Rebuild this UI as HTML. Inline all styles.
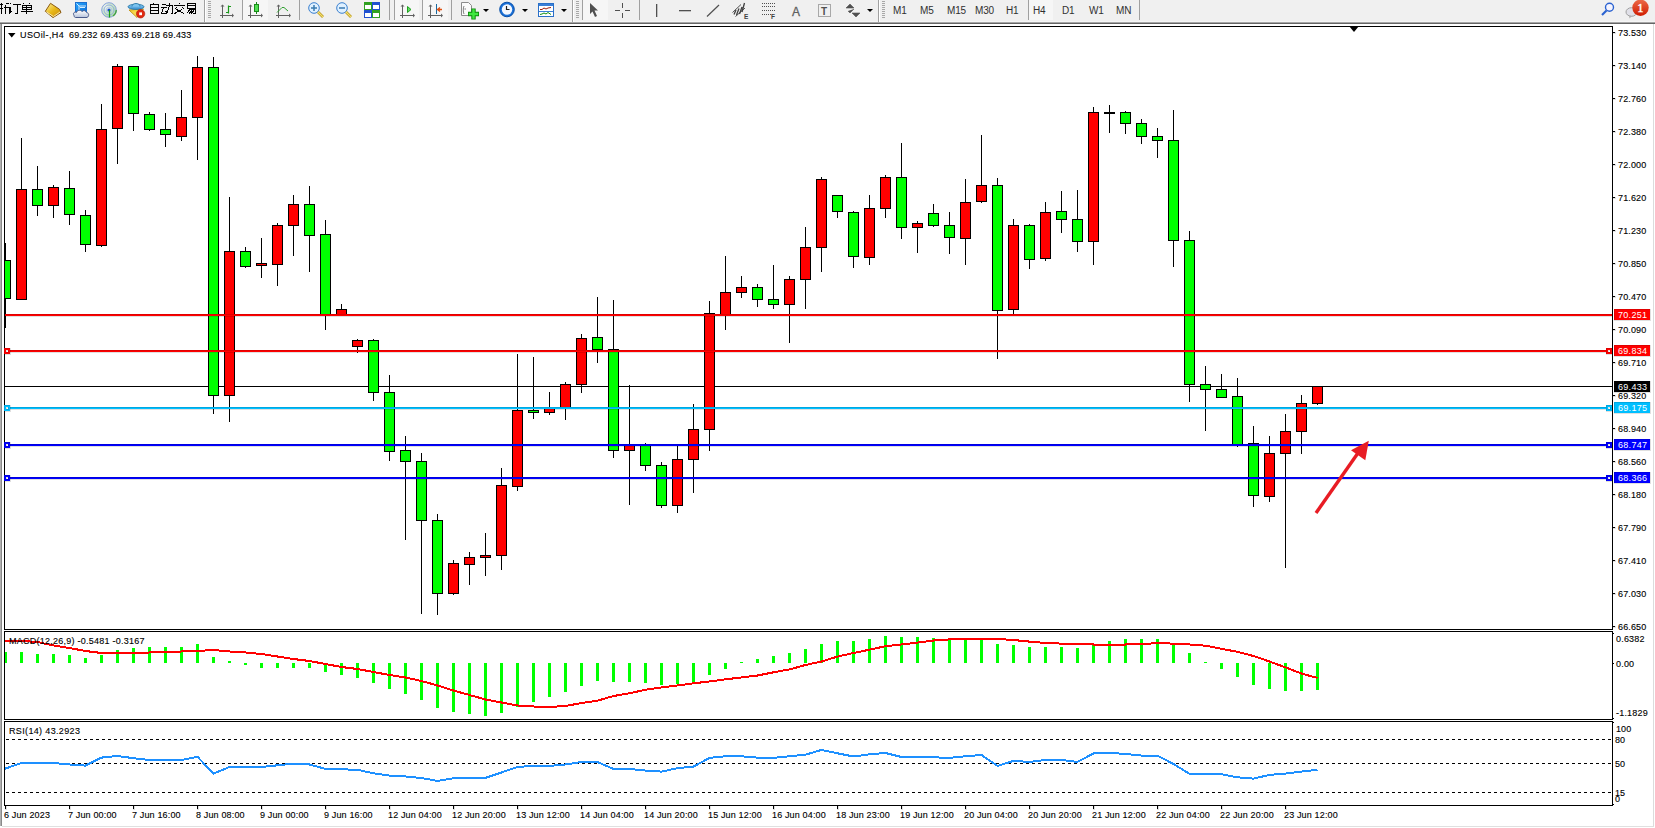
<!DOCTYPE html>
<html><head><meta charset="utf-8">
<style>
html,body{margin:0;padding:0;}
body{width:1655px;height:828px;overflow:hidden;background:#fff;position:relative;font-family:"Liberation Sans",sans-serif;}
svg{position:absolute;left:0;top:0;}
.t{font-family:"Liberation Sans",sans-serif;font-size:9px;fill:#000;letter-spacing:0.3px;stroke:#000;stroke-width:0.12px;}
.t .tw{stroke:none;}
.t .tw{fill:#fff;}
</style></head><body>
<svg width="1655" height="828" viewBox="0 0 1655 828" shape-rendering="crispEdges">
<!-- toolbar -->
<rect x="0" y="0" width="1655" height="22" fill="#f0f0f0"/>
<rect x="0" y="21" width="1655" height="1" fill="#f5f5f5"/>
<rect x="0" y="22" width="1655" height="1" fill="#a6a6a6"/>
<rect x="0" y="23" width="1655" height="1" fill="#656565"/>
<g id="toolbar" shape-rendering="geometricPrecision">
<!-- CJK: 新订单 -->
<g stroke="#000" stroke-width="1" fill="none" shape-rendering="crispEdges">
 <path d="M0 4.5H3M0 8.5H3M1.5 3V14M6.5 3.5L8.5 3M4 7.5H11M5.5 5V14M9.5 8V14"/>
 <path d="M10.5 3V4M10.5 7V12.5L12 11M13 4.5H21M17.5 4.5V13.5H15"/>
 <path d="M23.5 3V4M29.5 3V4M22.5 5.5H31.5V9.5H22.5ZM22.5 7.5H31.5M26.5 5V14M21 11.5H33"/>
</g>
<!-- book icon -->
<defs>
<linearGradient id="gbook" x1="0" y1="0" x2="1" y2="1"><stop offset="0" stop-color="#fff2a0"/><stop offset="0.5" stop-color="#e8b818"/><stop offset="1" stop-color="#c88a10"/></linearGradient>
<linearGradient id="gcloud" x1="0" y1="0" x2="0" y2="1"><stop offset="0" stop-color="#ffffff"/><stop offset="1" stop-color="#b8c4dc"/></linearGradient>
<linearGradient id="gbox" x1="0" y1="0" x2="1" y2="1"><stop offset="0" stop-color="#2aa8ff"/><stop offset="1" stop-color="#0a70d8"/></linearGradient>
<radialGradient id="gsig" cx="0.3" cy="0.3" r="0.8"><stop offset="0" stop-color="#f0f4f0"/><stop offset="1" stop-color="#a8d8a0"/></radialGradient>
<linearGradient id="ghat" x1="0" y1="0" x2="0" y2="1"><stop offset="0" stop-color="#90d0f8"/><stop offset="1" stop-color="#3a90d0"/></linearGradient>
<linearGradient id="gcup" x1="0" y1="0" x2="1" y2="1"><stop offset="0" stop-color="#f0c828"/><stop offset="1" stop-color="#fff080"/></linearGradient>
</defs>
<polygon points="45.3,11.3 50.5,3.3 59.5,9.3 61,12.5 53,17.6" fill="url(#gbook)" stroke="#8b5a10" stroke-width="1" stroke-linejoin="round"/>
<path d="M46.5 12L53.5 16.5L60 12" stroke="#f8e8b0" stroke-width="1" fill="none"/>
<!-- cloud/page icon -->
<rect x="75.5" y="2.5" width="11" height="9" fill="url(#gbox)" stroke="#1a70d0" stroke-width="1"/>
<path d="M76.5 3.5L79 6V11M79 6H86" stroke="#e8f6ff" stroke-width="0.9" fill="none"/>
<rect x="80" y="7" width="5" height="1" fill="#d8f0ff"/>
<path d="M74 15.5C72.5 13 74.5 11.5 76.5 12.5C77 10 80.5 9.5 82 11.5C83.5 10 86 10.5 86.5 12.5C89 12.5 89.5 16.5 87 17.5H75.5C74.5 17.3 74 16.5 74 15.5Z" fill="url(#gcloud)" stroke="#4a5a8a" stroke-width="1"/>
<!-- signal icon -->
<circle cx="109" cy="10" r="7.3" fill="url(#gsig)" stroke="#7090d8" stroke-width="0.9" opacity="0.9"/>
<circle cx="109" cy="10" r="5" fill="none" stroke="#88a8e0" stroke-width="0.9"/>
<circle cx="109" cy="10" r="2.8" fill="none" stroke="#a8c0e8" stroke-width="0.8"/>
<path d="M113 16A7.3 7.3 0 0 0 116.3 10" stroke="#40a040" stroke-width="1.2" fill="none"/>
<circle cx="109" cy="10" r="1.6" fill="#2050d0"/>
<path d="M109.5 10V17.5" stroke="#18a018" stroke-width="1.2"/>
<!-- hat icon -->
<path d="M129 10L143.5 9L137 17.5Z" fill="url(#gcup)" stroke="#c09010" stroke-width="0.9" stroke-linejoin="round"/>
<ellipse cx="136" cy="6.8" rx="8" ry="2.6" fill="url(#ghat)" stroke="#2a78a8" stroke-width="0.9"/>
<path d="M132 6.5C132 2.5 140 2.5 140 6.5" fill="#7cc4f0" stroke="#2a78a8" stroke-width="0.9"/>
<circle cx="140.6" cy="13.8" r="4.2" fill="#e02810" stroke="#b01808" stroke-width="0.6"/>
<rect x="139.2" y="12.4" width="2.8" height="2.8" fill="#fff"/>
<!-- 自动交易 -->
<g stroke="#000" stroke-width="1" fill="none" shape-rendering="crispEdges">
 <path d="M153.5 2.5V4M150.5 4.5H158.5V13.5H150.5ZM150.5 7.5H158.5M150.5 10.5H158.5"/>
 <path d="M162 4.5H166M161 7.5H167M163.5 8L161.5 13H167M165.5 11L167 13M166 5.5H172.5V13.5H170.5M169.5 3V6M169.5 6L167 13"/>
 <path d="M179.5 2.5V4M174 5.5H185M177 7L175 9M182 7L184 9M176.5 9.5L184 13.5M182 9.5L174.5 13.5"/>
 <path d="M187.5 3.5H195.5V8.5H187.5ZM187.5 5.5H195.5M189 9.5H195.5V13.5H193M190 9.5L187 13M192 10.5L189 13.5M194 10.5L191 13.5"/>
</g>
<!-- separator -->
<rect x="204" y="0" width="1" height="22" fill="#a0a0a0"/><rect x="205" y="0" width="1" height="22" fill="#fff"/>
<g fill="#a8a8a8"><rect x="208" y="1" width="3" height="1"/><rect x="208" y="3" width="3" height="1"/><rect x="208" y="5" width="3" height="1"/><rect x="208" y="7" width="3" height="1"/><rect x="208" y="9" width="3" height="1"/><rect x="208" y="11" width="3" height="1"/><rect x="208" y="13" width="3" height="1"/><rect x="208" y="15" width="3" height="1"/><rect x="208" y="17" width="3" height="1"/></g>
<!-- bar chart icon -->
<g fill="#606060"><rect x="222" y="5" width="1" height="13"/><rect x="220" y="15" width="13" height="1"/><path d="M220.5 6.5L222.5 4.5L224.5 6.5Z"/><path d="M232 13.5L234 15.5L232 17.5Z"/></g>
<path d="M228.5 5.5V13.5M228.5 6.5H231M226 12.5H228.5" stroke="#1a9a1a" stroke-width="1.2" fill="none"/>
<!-- candle icon pressed -->
<rect x="243" y="0" width="25" height="20" fill="#f6f6f6"/>
<rect x="242" y="0" width="1" height="20" fill="#a0a0a0"/>
<g fill="#606060"><rect x="250" y="5" width="1" height="13"/><rect x="248" y="15" width="14" height="1"/><path d="M248.5 6.5L250.5 4.5L252.5 6.5Z"/><path d="M261 13.5L263 15.5L261 17.5Z"/></g>
<rect x="256" y="2" width="1" height="12" fill="#1a8a1a"/>
<rect x="254.5" y="4.5" width="4" height="7" fill="#50e050" stroke="#1a8a1a"/>
<!-- line chart icon -->
<g fill="#606060"><rect x="278" y="5" width="1" height="13"/><rect x="276" y="15" width="14" height="1"/><path d="M276.5 6.5L278.5 4.5L280.5 6.5Z"/><path d="M289 13.5L291 15.5L289 17.5Z"/></g>
<path d="M277 12.5L282 7.5L284 7.5L288 11" stroke="#30a030" stroke-width="1" fill="none"/>
<rect x="299" y="0" width="1" height="20" fill="#a0a0a0"/>
<!-- zoom in / out -->
<circle cx="314" cy="8" r="5.3" fill="#dff0ff" stroke="#3a80d0" stroke-width="1"/>
<path d="M311 8H317M314 5V11" stroke="#3a7ab0" stroke-width="1.5"/>
<path d="M318 12L323 17" stroke="#b89010" stroke-width="2.6"/><path d="M318 12L323 17" stroke="#f0e070" stroke-width="1.2"/>
<circle cx="342" cy="8" r="5.3" fill="#dff0ff" stroke="#3a80d0" stroke-width="1"/>
<path d="M339 8H345" stroke="#3a7ab0" stroke-width="1.5"/>
<path d="M346 12L351 17" stroke="#b89010" stroke-width="2.6"/><path d="M346 12L351 17" stroke="#f0e070" stroke-width="1.2"/>
<!-- tile icon -->
<rect x="364" y="2" width="8" height="8" fill="#30a020"/><rect x="372" y="2" width="8" height="8" fill="#2050d0"/>
<rect x="364" y="10" width="8" height="8" fill="#2050d0"/><rect x="372" y="10" width="8" height="8" fill="#30a020"/>
<g fill="#fff"><rect x="365" y="5" width="6" height="4"/><rect x="373" y="5" width="6" height="4"/><rect x="365" y="13" width="6" height="4"/><rect x="373" y="13" width="6" height="4"/></g>
<rect x="389" y="0" width="1" height="20" fill="#a0a0a0"/>
<rect x="394" y="0" width="1" height="20" fill="#a0a0a0"/>
<rect x="395" y="0" width="24" height="20" fill="#f6f6f6"/>
<g fill="#606060"><rect x="402" y="5" width="1" height="13"/><rect x="400" y="15" width="14" height="1"/><path d="M400.5 6.5L402.5 4.5L404.5 6.5Z"/><path d="M413 13.5L415 15.5L413 17.5Z"/></g>
<path d="M407.5 6.5V12.5L411 9.5Z" fill="#60e060" stroke="#20a020"/>
<rect x="422" y="0" width="1" height="20" fill="#a0a0a0"/>
<rect x="423" y="0" width="25" height="20" fill="#f6f6f6"/>
<g fill="#606060"><rect x="430" y="5" width="1" height="13"/><rect x="428" y="15" width="14" height="1"/><path d="M428.5 6.5L430.5 4.5L432.5 6.5Z"/><path d="M441 13.5L443 15.5L441 17.5Z"/></g>
<rect x="436" y="4" width="1" height="10" fill="#1a6aa0"/>
<path d="M442 9.5H438M440 7.5L437.5 9.5L440 11.5" stroke="#e05010" stroke-width="1.3" fill="none"/>
<rect x="451" y="0" width="1" height="20" fill="#a0a0a0"/>
<!-- new chart -->
<path d="M461.5 2.5H468.5L471.5 5.5V15.5H461.5Z" fill="#fafafa" stroke="#8a8a8a"/>
<path d="M464 6C463 8 463 12 464 14M464.5 9H466" stroke="#606060" stroke-width="0.8" fill="none"/>
<path d="M468 14H479M473.5 8.5V19.5" stroke="#0c8a0c" stroke-width="4.4"/>
<path d="M468.8 14H478.2M473.5 9.3V18.7" stroke="#40e840" stroke-width="2.4"/>
<path d="M483 9H489L486 12Z" fill="#000"/>
<!-- clock -->
<circle cx="507" cy="9.5" r="7.3" fill="#1a70d8" stroke="#0a50a8"/>
<circle cx="507" cy="9.5" r="5.2" fill="#f4f8ff"/>
<path d="M506.5 6V9.5H509.5" stroke="#202020" stroke-width="1.2" fill="none"/>
<path d="M522 9H528L525 12Z" fill="#000"/>
<!-- template -->
<rect x="538.5" y="3.5" width="15" height="13" fill="#fff" stroke="#2a70c8"/>
<rect x="539" y="4" width="14" height="2" fill="#3a80d8"/>
<path d="M540 9.5L542 9.5L544 8L546 9L548 8L551 7.5" stroke="#a02010" stroke-width="1" fill="none"/>
<rect x="539" y="11" width="14" height="1" fill="#3a80d8"/>
<path d="M540 14.5L542 14L544 13L546 14L548 12.5L551 14.5" stroke="#109010" stroke-width="1" fill="none"/>
<path d="M561 9H567L564 12Z" fill="#000"/>
<rect x="572" y="0" width="1" height="22" fill="#a0a0a0"/><rect x="573" y="0" width="1" height="22" fill="#fff"/>
<g fill="#a8a8a8"><rect x="576" y="1" width="3" height="1"/><rect x="576" y="3" width="3" height="1"/><rect x="576" y="5" width="3" height="1"/><rect x="576" y="7" width="3" height="1"/><rect x="576" y="9" width="3" height="1"/><rect x="576" y="11" width="3" height="1"/><rect x="576" y="13" width="3" height="1"/><rect x="576" y="15" width="3" height="1"/><rect x="576" y="17" width="3" height="1"/></g>
<rect x="582" y="0" width="1" height="20" fill="#a0a0a0"/>
<rect x="583" y="0" width="25" height="20" fill="#f6f6f6"/>
<path d="M590 3V14L592.5 11.5L595 17L597 16L594.5 10.5L598 10.5Z" fill="#505050"/>
<path d="M615 10.5H620M625 10.5H630M622.5 3V8M622.5 13V18" stroke="#505050" stroke-width="1" fill="none"/>
<rect x="639" y="0" width="1" height="20" fill="#a0a0a0"/>
<rect x="656" y="4" width="1.3" height="13" fill="#505050"/>
<rect x="679" y="10" width="12" height="1.3" fill="#505050"/>
<path d="M707 16.5L719 5" stroke="#505050" stroke-width="1.2"/>
<path d="M732.5 12.5L741 4.5M735.5 16.5L745 8" stroke="#505050" stroke-width="1" fill="none"/>
<path d="M734 14.5L736 10M736.5 15L739 8.5M739.5 14L742 7M742 12L744.5 3" stroke="#404040" stroke-width="1.3" fill="none"/>
<text x="744" y="19" font-family="Liberation Sans" font-size="6.5" font-weight="bold" fill="#404040">E</text>
<g stroke="#505050" stroke-width="1" stroke-dasharray="1 1" fill="none" shape-rendering="crispEdges"><path d="M762 3.5H776M762 6.5H776M762 10.5H776M762 14.5H771"/></g>
<text x="771" y="19" font-family="Liberation Sans" font-size="6.5" font-weight="bold" fill="#404040">F</text>
<text x="792" y="15.5" font-family="Liberation Sans" font-size="12" fill="#606060" stroke="#606060" stroke-width="0.3">A</text>
<rect x="818.5" y="4.5" width="12" height="12" fill="none" stroke="#606060" stroke-dasharray="1 1"/>
<text x="821" y="14.5" font-family="Liberation Sans" font-size="10" font-weight="bold" fill="#505050">T</text>
<path d="M846 8L850 4L854 8ZM852 13L856 17L860 13ZM848 11L850 13L854 9" fill="#505050" stroke="#505050" stroke-width="0.6"/>
<path d="M867 9H873L870 12Z" fill="#000"/>
<rect x="878" y="0" width="1" height="22" fill="#a0a0a0"/><rect x="879" y="0" width="1" height="22" fill="#fff"/>
<g fill="#a8a8a8"><rect x="882" y="1" width="3" height="1"/><rect x="882" y="3" width="3" height="1"/><rect x="882" y="5" width="3" height="1"/><rect x="882" y="7" width="3" height="1"/><rect x="882" y="9" width="3" height="1"/><rect x="882" y="11" width="3" height="1"/><rect x="882" y="13" width="3" height="1"/><rect x="882" y="15" width="3" height="1"/><rect x="882" y="17" width="3" height="1"/></g>
<!-- timeframes -->
<rect x="1028" y="0" width="1" height="20" fill="#a0a0a0"/>
<rect x="1029" y="0" width="24" height="20" fill="#f6f6f6"/>
<g font-family="Liberation Sans" font-size="10" fill="#303030" letter-spacing="-0.2">
<text x="893" y="14">M1</text><text x="920" y="14">M5</text><text x="947" y="14">M15</text><text x="975" y="14">M30</text>
<text x="1006" y="14">H1</text><text x="1033" y="14">H4</text><text x="1062" y="14">D1</text><text x="1089" y="14">W1</text><text x="1116" y="14">MN</text>
</g>
<rect x="1139" y="0" width="1" height="20" fill="#a0a0a0"/>
<!-- search -->
<circle cx="1609.5" cy="7.3" r="4" fill="#f4f4ff" stroke="#2a62d0" stroke-width="1.4"/>
<path d="M1606.5 10.5L1602 15" stroke="#2a62d0" stroke-width="2.2"/>
<!-- chat + badge -->
<ellipse cx="1631.5" cy="12" rx="5.5" ry="4.3" fill="#e0e0e8" stroke="#a0a0a0"/>
<path d="M1629 15.5L1629.5 18.5L1632 16" fill="#b0b0b0"/>
<defs><linearGradient id="gbadge" x1="0" y1="0" x2="0" y2="1"><stop offset="0" stop-color="#ec6a48"/><stop offset="1" stop-color="#d01c00"/></linearGradient></defs><circle cx="1640.5" cy="7.8" r="8.2" fill="url(#gbadge)"/>
<text x="1637.2" y="12.3" font-family="Liberation Serif" font-size="12.5" fill="#fff" stroke="#fff" stroke-width="0.4">1</text>
</g>

<!-- window frame -->
<rect x="0" y="24" width="1" height="802" fill="#b0b0b0"/><rect x="1" y="24" width="1" height="802" fill="#8a8a8a"/>
<rect x="1653" y="24" width="1" height="803" fill="#dcdcdc"/>
<rect x="2" y="826" width="1652" height="1" fill="#e0e0e0"/>
<!-- panel borders -->
<g fill="none" stroke="#000" stroke-width="1">
<rect x="4.5" y="26.5" width="1608" height="603"/>
<rect x="4.5" y="631.5" width="1608" height="88"/>
<rect x="4.5" y="721.5" width="1608" height="84"/>
</g>
<svg x="5" y="27" width="1607" height="602" viewBox="5 27 1607 602" overflow="hidden">
<rect x="5" y="386" width="1607" height="1" fill="#000"/>

<rect x="5" y="243" width="1" height="17" fill="#000"/>
<rect x="5" y="299" width="1" height="29" fill="#000"/>
<rect x="0" y="260" width="11" height="39" fill="#000"/>
<rect x="1" y="261" width="9" height="37" fill="#00ff00"/>
<rect x="21" y="138" width="1" height="51" fill="#000"/>
<rect x="16" y="189" width="11" height="111" fill="#000"/>
<rect x="17" y="190" width="9" height="109" fill="#ff0000"/>
<rect x="37" y="166" width="1" height="23" fill="#000"/>
<rect x="37" y="206" width="1" height="10" fill="#000"/>
<rect x="32" y="189" width="11" height="17" fill="#000"/>
<rect x="33" y="190" width="9" height="15" fill="#00ff00"/>
<rect x="53" y="185" width="1" height="2" fill="#000"/>
<rect x="53" y="206" width="1" height="12" fill="#000"/>
<rect x="48" y="187" width="11" height="19" fill="#000"/>
<rect x="49" y="188" width="9" height="17" fill="#ff0000"/>
<rect x="69" y="171" width="1" height="17" fill="#000"/>
<rect x="69" y="215" width="1" height="10" fill="#000"/>
<rect x="64" y="188" width="11" height="27" fill="#000"/>
<rect x="65" y="189" width="9" height="25" fill="#00ff00"/>
<rect x="85" y="210" width="1" height="5" fill="#000"/>
<rect x="85" y="245" width="1" height="7" fill="#000"/>
<rect x="80" y="215" width="11" height="30" fill="#000"/>
<rect x="81" y="216" width="9" height="28" fill="#00ff00"/>
<rect x="101" y="104" width="1" height="25" fill="#000"/>
<rect x="101" y="246" width="1" height="1" fill="#000"/>
<rect x="96" y="129" width="11" height="117" fill="#000"/>
<rect x="97" y="130" width="9" height="115" fill="#ff0000"/>
<rect x="117" y="64" width="1" height="2" fill="#000"/>
<rect x="117" y="129" width="1" height="35" fill="#000"/>
<rect x="112" y="66" width="11" height="63" fill="#000"/>
<rect x="113" y="67" width="9" height="61" fill="#ff0000"/>
<rect x="133" y="114" width="1" height="17" fill="#000"/>
<rect x="128" y="66" width="11" height="48" fill="#000"/>
<rect x="129" y="67" width="9" height="46" fill="#00ff00"/>
<rect x="149" y="112" width="1" height="2" fill="#000"/>
<rect x="149" y="130" width="1" height="1" fill="#000"/>
<rect x="144" y="114" width="11" height="16" fill="#000"/>
<rect x="145" y="115" width="9" height="14" fill="#00ff00"/>
<rect x="165" y="113" width="1" height="16" fill="#000"/>
<rect x="165" y="135" width="1" height="12" fill="#000"/>
<rect x="160" y="129" width="11" height="6" fill="#000"/>
<rect x="161" y="130" width="9" height="4" fill="#00ff00"/>
<rect x="181" y="90" width="1" height="27" fill="#000"/>
<rect x="181" y="137" width="1" height="4" fill="#000"/>
<rect x="176" y="117" width="11" height="20" fill="#000"/>
<rect x="177" y="118" width="9" height="18" fill="#ff0000"/>
<rect x="197" y="56" width="1" height="11" fill="#000"/>
<rect x="197" y="118" width="1" height="42" fill="#000"/>
<rect x="192" y="67" width="11" height="51" fill="#000"/>
<rect x="193" y="68" width="9" height="49" fill="#ff0000"/>
<rect x="213" y="57" width="1" height="10" fill="#000"/>
<rect x="213" y="396" width="1" height="18" fill="#000"/>
<rect x="208" y="67" width="11" height="329" fill="#000"/>
<rect x="209" y="68" width="9" height="327" fill="#00ff00"/>
<rect x="229" y="197" width="1" height="54" fill="#000"/>
<rect x="229" y="396" width="1" height="26" fill="#000"/>
<rect x="224" y="251" width="11" height="145" fill="#000"/>
<rect x="225" y="252" width="9" height="143" fill="#ff0000"/>
<rect x="245" y="247" width="1" height="4" fill="#000"/>
<rect x="245" y="267" width="1" height="1" fill="#000"/>
<rect x="240" y="251" width="11" height="16" fill="#000"/>
<rect x="241" y="252" width="9" height="14" fill="#00ff00"/>
<rect x="261" y="238" width="1" height="25" fill="#000"/>
<rect x="261" y="266" width="1" height="12" fill="#000"/>
<rect x="256" y="263" width="11" height="3" fill="#000"/>
<rect x="257" y="264" width="9" height="1" fill="#ff0000"/>
<rect x="277" y="223" width="1" height="2" fill="#000"/>
<rect x="277" y="265" width="1" height="21" fill="#000"/>
<rect x="272" y="225" width="11" height="40" fill="#000"/>
<rect x="273" y="226" width="9" height="38" fill="#ff0000"/>
<rect x="293" y="195" width="1" height="9" fill="#000"/>
<rect x="293" y="226" width="1" height="30" fill="#000"/>
<rect x="288" y="204" width="11" height="22" fill="#000"/>
<rect x="289" y="205" width="9" height="20" fill="#ff0000"/>
<rect x="309" y="186" width="1" height="18" fill="#000"/>
<rect x="309" y="236" width="1" height="36" fill="#000"/>
<rect x="304" y="204" width="11" height="32" fill="#000"/>
<rect x="305" y="205" width="9" height="30" fill="#00ff00"/>
<rect x="325" y="220" width="1" height="14" fill="#000"/>
<rect x="325" y="315" width="1" height="15" fill="#000"/>
<rect x="320" y="234" width="11" height="81" fill="#000"/>
<rect x="321" y="235" width="9" height="79" fill="#00ff00"/>
<rect x="341" y="304" width="1" height="5" fill="#000"/>
<rect x="336" y="309" width="11" height="6" fill="#000"/>
<rect x="337" y="310" width="9" height="4" fill="#ff0000"/>
<rect x="357" y="339" width="1" height="1" fill="#000"/>
<rect x="357" y="347" width="1" height="6" fill="#000"/>
<rect x="352" y="340" width="11" height="7" fill="#000"/>
<rect x="353" y="341" width="9" height="5" fill="#ff0000"/>
<rect x="373" y="339" width="1" height="1" fill="#000"/>
<rect x="373" y="393" width="1" height="8" fill="#000"/>
<rect x="368" y="340" width="11" height="53" fill="#000"/>
<rect x="369" y="341" width="9" height="51" fill="#00ff00"/>
<rect x="389" y="375" width="1" height="17" fill="#000"/>
<rect x="389" y="452" width="1" height="9" fill="#000"/>
<rect x="384" y="392" width="11" height="60" fill="#000"/>
<rect x="385" y="393" width="9" height="58" fill="#00ff00"/>
<rect x="405" y="436" width="1" height="14" fill="#000"/>
<rect x="405" y="462" width="1" height="78" fill="#000"/>
<rect x="400" y="450" width="11" height="12" fill="#000"/>
<rect x="401" y="451" width="9" height="10" fill="#00ff00"/>
<rect x="421" y="453" width="1" height="8" fill="#000"/>
<rect x="421" y="521" width="1" height="93" fill="#000"/>
<rect x="416" y="461" width="11" height="60" fill="#000"/>
<rect x="417" y="462" width="9" height="58" fill="#00ff00"/>
<rect x="437" y="514" width="1" height="6" fill="#000"/>
<rect x="437" y="594" width="1" height="21" fill="#000"/>
<rect x="432" y="520" width="11" height="74" fill="#000"/>
<rect x="433" y="521" width="9" height="72" fill="#00ff00"/>
<rect x="453" y="560" width="1" height="3" fill="#000"/>
<rect x="453" y="594" width="1" height="1" fill="#000"/>
<rect x="448" y="563" width="11" height="31" fill="#000"/>
<rect x="449" y="564" width="9" height="29" fill="#ff0000"/>
<rect x="469" y="552" width="1" height="5" fill="#000"/>
<rect x="469" y="565" width="1" height="20" fill="#000"/>
<rect x="464" y="557" width="11" height="8" fill="#000"/>
<rect x="465" y="558" width="9" height="6" fill="#ff0000"/>
<rect x="485" y="533" width="1" height="22" fill="#000"/>
<rect x="485" y="558" width="1" height="18" fill="#000"/>
<rect x="480" y="555" width="11" height="3" fill="#000"/>
<rect x="481" y="556" width="9" height="1" fill="#ff0000"/>
<rect x="501" y="468" width="1" height="17" fill="#000"/>
<rect x="501" y="556" width="1" height="14" fill="#000"/>
<rect x="496" y="485" width="11" height="71" fill="#000"/>
<rect x="497" y="486" width="9" height="69" fill="#ff0000"/>
<rect x="517" y="354" width="1" height="56" fill="#000"/>
<rect x="517" y="487" width="1" height="4" fill="#000"/>
<rect x="512" y="410" width="11" height="77" fill="#000"/>
<rect x="513" y="411" width="9" height="75" fill="#ff0000"/>
<rect x="533" y="357" width="1" height="53" fill="#000"/>
<rect x="533" y="413" width="1" height="6" fill="#000"/>
<rect x="528" y="410" width="11" height="3" fill="#000"/>
<rect x="529" y="411" width="9" height="1" fill="#00ff00"/>
<rect x="549" y="392" width="1" height="16" fill="#000"/>
<rect x="549" y="413" width="1" height="2" fill="#000"/>
<rect x="544" y="408" width="11" height="5" fill="#000"/>
<rect x="545" y="409" width="9" height="3" fill="#ff0000"/>
<rect x="565" y="382" width="1" height="2" fill="#000"/>
<rect x="565" y="408" width="1" height="12" fill="#000"/>
<rect x="560" y="384" width="11" height="24" fill="#000"/>
<rect x="561" y="385" width="9" height="22" fill="#ff0000"/>
<rect x="581" y="334" width="1" height="4" fill="#000"/>
<rect x="581" y="385" width="1" height="8" fill="#000"/>
<rect x="576" y="338" width="11" height="47" fill="#000"/>
<rect x="577" y="339" width="9" height="45" fill="#ff0000"/>
<rect x="597" y="297" width="1" height="40" fill="#000"/>
<rect x="597" y="350" width="1" height="13" fill="#000"/>
<rect x="592" y="337" width="11" height="13" fill="#000"/>
<rect x="593" y="338" width="9" height="11" fill="#00ff00"/>
<rect x="613" y="300" width="1" height="49" fill="#000"/>
<rect x="613" y="451" width="1" height="7" fill="#000"/>
<rect x="608" y="349" width="11" height="102" fill="#000"/>
<rect x="609" y="350" width="9" height="100" fill="#00ff00"/>
<rect x="629" y="385" width="1" height="60" fill="#000"/>
<rect x="629" y="451" width="1" height="54" fill="#000"/>
<rect x="624" y="445" width="11" height="6" fill="#000"/>
<rect x="625" y="446" width="9" height="4" fill="#ff0000"/>
<rect x="645" y="443" width="1" height="2" fill="#000"/>
<rect x="645" y="466" width="1" height="5" fill="#000"/>
<rect x="640" y="445" width="11" height="21" fill="#000"/>
<rect x="641" y="446" width="9" height="19" fill="#00ff00"/>
<rect x="661" y="462" width="1" height="3" fill="#000"/>
<rect x="661" y="506" width="1" height="2" fill="#000"/>
<rect x="656" y="465" width="11" height="41" fill="#000"/>
<rect x="657" y="466" width="9" height="39" fill="#00ff00"/>
<rect x="677" y="445" width="1" height="14" fill="#000"/>
<rect x="677" y="506" width="1" height="7" fill="#000"/>
<rect x="672" y="459" width="11" height="47" fill="#000"/>
<rect x="673" y="460" width="9" height="45" fill="#ff0000"/>
<rect x="693" y="404" width="1" height="25" fill="#000"/>
<rect x="693" y="460" width="1" height="33" fill="#000"/>
<rect x="688" y="429" width="11" height="31" fill="#000"/>
<rect x="689" y="430" width="9" height="29" fill="#ff0000"/>
<rect x="709" y="301" width="1" height="12" fill="#000"/>
<rect x="709" y="430" width="1" height="21" fill="#000"/>
<rect x="704" y="313" width="11" height="117" fill="#000"/>
<rect x="705" y="314" width="9" height="115" fill="#ff0000"/>
<rect x="725" y="256" width="1" height="36" fill="#000"/>
<rect x="725" y="315" width="1" height="15" fill="#000"/>
<rect x="720" y="292" width="11" height="23" fill="#000"/>
<rect x="721" y="293" width="9" height="21" fill="#ff0000"/>
<rect x="741" y="276" width="1" height="11" fill="#000"/>
<rect x="741" y="293" width="1" height="5" fill="#000"/>
<rect x="736" y="287" width="11" height="6" fill="#000"/>
<rect x="737" y="288" width="9" height="4" fill="#ff0000"/>
<rect x="757" y="284" width="1" height="3" fill="#000"/>
<rect x="757" y="300" width="1" height="7" fill="#000"/>
<rect x="752" y="287" width="11" height="13" fill="#000"/>
<rect x="753" y="288" width="9" height="11" fill="#00ff00"/>
<rect x="773" y="265" width="1" height="34" fill="#000"/>
<rect x="773" y="305" width="1" height="4" fill="#000"/>
<rect x="768" y="299" width="11" height="6" fill="#000"/>
<rect x="769" y="300" width="9" height="4" fill="#00ff00"/>
<rect x="789" y="276" width="1" height="3" fill="#000"/>
<rect x="789" y="305" width="1" height="38" fill="#000"/>
<rect x="784" y="279" width="11" height="26" fill="#000"/>
<rect x="785" y="280" width="9" height="24" fill="#ff0000"/>
<rect x="805" y="227" width="1" height="20" fill="#000"/>
<rect x="805" y="280" width="1" height="29" fill="#000"/>
<rect x="800" y="247" width="11" height="33" fill="#000"/>
<rect x="801" y="248" width="9" height="31" fill="#ff0000"/>
<rect x="821" y="177" width="1" height="2" fill="#000"/>
<rect x="821" y="248" width="1" height="24" fill="#000"/>
<rect x="816" y="179" width="11" height="69" fill="#000"/>
<rect x="817" y="180" width="9" height="67" fill="#ff0000"/>
<rect x="837" y="212" width="1" height="6" fill="#000"/>
<rect x="832" y="195" width="11" height="17" fill="#000"/>
<rect x="833" y="196" width="9" height="15" fill="#00ff00"/>
<rect x="853" y="211" width="1" height="1" fill="#000"/>
<rect x="853" y="257" width="1" height="11" fill="#000"/>
<rect x="848" y="212" width="11" height="45" fill="#000"/>
<rect x="849" y="213" width="9" height="43" fill="#00ff00"/>
<rect x="869" y="195" width="1" height="13" fill="#000"/>
<rect x="869" y="258" width="1" height="7" fill="#000"/>
<rect x="864" y="208" width="11" height="50" fill="#000"/>
<rect x="865" y="209" width="9" height="48" fill="#ff0000"/>
<rect x="885" y="175" width="1" height="2" fill="#000"/>
<rect x="885" y="209" width="1" height="9" fill="#000"/>
<rect x="880" y="177" width="11" height="32" fill="#000"/>
<rect x="881" y="178" width="9" height="30" fill="#ff0000"/>
<rect x="901" y="143" width="1" height="34" fill="#000"/>
<rect x="901" y="228" width="1" height="11" fill="#000"/>
<rect x="896" y="177" width="11" height="51" fill="#000"/>
<rect x="897" y="178" width="9" height="49" fill="#00ff00"/>
<rect x="917" y="221" width="1" height="2" fill="#000"/>
<rect x="917" y="228" width="1" height="25" fill="#000"/>
<rect x="912" y="223" width="11" height="5" fill="#000"/>
<rect x="913" y="224" width="9" height="3" fill="#ff0000"/>
<rect x="933" y="204" width="1" height="9" fill="#000"/>
<rect x="933" y="226" width="1" height="1" fill="#000"/>
<rect x="928" y="213" width="11" height="13" fill="#000"/>
<rect x="929" y="214" width="9" height="11" fill="#00ff00"/>
<rect x="949" y="212" width="1" height="13" fill="#000"/>
<rect x="949" y="238" width="1" height="16" fill="#000"/>
<rect x="944" y="225" width="11" height="13" fill="#000"/>
<rect x="945" y="226" width="9" height="11" fill="#00ff00"/>
<rect x="965" y="179" width="1" height="23" fill="#000"/>
<rect x="965" y="239" width="1" height="26" fill="#000"/>
<rect x="960" y="202" width="11" height="37" fill="#000"/>
<rect x="961" y="203" width="9" height="35" fill="#ff0000"/>
<rect x="981" y="135" width="1" height="50" fill="#000"/>
<rect x="981" y="202" width="1" height="1" fill="#000"/>
<rect x="976" y="185" width="11" height="17" fill="#000"/>
<rect x="977" y="186" width="9" height="15" fill="#ff0000"/>
<rect x="997" y="178" width="1" height="7" fill="#000"/>
<rect x="997" y="311" width="1" height="48" fill="#000"/>
<rect x="992" y="185" width="11" height="126" fill="#000"/>
<rect x="993" y="186" width="9" height="124" fill="#00ff00"/>
<rect x="1013" y="219" width="1" height="6" fill="#000"/>
<rect x="1013" y="310" width="1" height="4" fill="#000"/>
<rect x="1008" y="225" width="11" height="85" fill="#000"/>
<rect x="1009" y="226" width="9" height="83" fill="#ff0000"/>
<rect x="1029" y="224" width="1" height="1" fill="#000"/>
<rect x="1029" y="260" width="1" height="9" fill="#000"/>
<rect x="1024" y="225" width="11" height="35" fill="#000"/>
<rect x="1025" y="226" width="9" height="33" fill="#00ff00"/>
<rect x="1045" y="202" width="1" height="10" fill="#000"/>
<rect x="1045" y="259" width="1" height="2" fill="#000"/>
<rect x="1040" y="212" width="11" height="47" fill="#000"/>
<rect x="1041" y="213" width="9" height="45" fill="#ff0000"/>
<rect x="1061" y="191" width="1" height="20" fill="#000"/>
<rect x="1061" y="220" width="1" height="13" fill="#000"/>
<rect x="1056" y="211" width="11" height="9" fill="#000"/>
<rect x="1057" y="212" width="9" height="7" fill="#00ff00"/>
<rect x="1077" y="190" width="1" height="29" fill="#000"/>
<rect x="1077" y="242" width="1" height="10" fill="#000"/>
<rect x="1072" y="219" width="11" height="23" fill="#000"/>
<rect x="1073" y="220" width="9" height="21" fill="#00ff00"/>
<rect x="1093" y="107" width="1" height="5" fill="#000"/>
<rect x="1093" y="242" width="1" height="23" fill="#000"/>
<rect x="1088" y="112" width="11" height="130" fill="#000"/>
<rect x="1089" y="113" width="9" height="128" fill="#ff0000"/>
<rect x="1109" y="105" width="1" height="7" fill="#000"/>
<rect x="1109" y="114" width="1" height="19" fill="#000"/>
<rect x="1104" y="112" width="11" height="2" fill="#000"/>
<rect x="1125" y="111" width="1" height="1" fill="#000"/>
<rect x="1125" y="124" width="1" height="10" fill="#000"/>
<rect x="1120" y="112" width="11" height="12" fill="#000"/>
<rect x="1121" y="113" width="9" height="10" fill="#00ff00"/>
<rect x="1141" y="119" width="1" height="4" fill="#000"/>
<rect x="1141" y="137" width="1" height="7" fill="#000"/>
<rect x="1136" y="123" width="11" height="14" fill="#000"/>
<rect x="1137" y="124" width="9" height="12" fill="#00ff00"/>
<rect x="1157" y="128" width="1" height="8" fill="#000"/>
<rect x="1157" y="141" width="1" height="17" fill="#000"/>
<rect x="1152" y="136" width="11" height="5" fill="#000"/>
<rect x="1153" y="137" width="9" height="3" fill="#00ff00"/>
<rect x="1173" y="110" width="1" height="30" fill="#000"/>
<rect x="1173" y="241" width="1" height="26" fill="#000"/>
<rect x="1168" y="140" width="11" height="101" fill="#000"/>
<rect x="1169" y="141" width="9" height="99" fill="#00ff00"/>
<rect x="1189" y="231" width="1" height="9" fill="#000"/>
<rect x="1189" y="385" width="1" height="17" fill="#000"/>
<rect x="1184" y="240" width="11" height="145" fill="#000"/>
<rect x="1185" y="241" width="9" height="143" fill="#00ff00"/>
<rect x="1205" y="366" width="1" height="18" fill="#000"/>
<rect x="1205" y="390" width="1" height="41" fill="#000"/>
<rect x="1200" y="384" width="11" height="6" fill="#000"/>
<rect x="1201" y="385" width="9" height="4" fill="#00ff00"/>
<rect x="1221" y="374" width="1" height="15" fill="#000"/>
<rect x="1216" y="389" width="11" height="9" fill="#000"/>
<rect x="1217" y="390" width="9" height="7" fill="#00ff00"/>
<rect x="1237" y="378" width="1" height="18" fill="#000"/>
<rect x="1237" y="445" width="1" height="2" fill="#000"/>
<rect x="1232" y="396" width="11" height="49" fill="#000"/>
<rect x="1233" y="397" width="9" height="47" fill="#00ff00"/>
<rect x="1253" y="426" width="1" height="17" fill="#000"/>
<rect x="1253" y="496" width="1" height="11" fill="#000"/>
<rect x="1248" y="443" width="11" height="53" fill="#000"/>
<rect x="1249" y="444" width="9" height="51" fill="#00ff00"/>
<rect x="1269" y="436" width="1" height="17" fill="#000"/>
<rect x="1269" y="497" width="1" height="5" fill="#000"/>
<rect x="1264" y="453" width="11" height="44" fill="#000"/>
<rect x="1265" y="454" width="9" height="42" fill="#ff0000"/>
<rect x="1285" y="414" width="1" height="17" fill="#000"/>
<rect x="1285" y="454" width="1" height="114" fill="#000"/>
<rect x="1280" y="431" width="11" height="23" fill="#000"/>
<rect x="1281" y="432" width="9" height="21" fill="#ff0000"/>
<rect x="1301" y="395" width="1" height="8" fill="#000"/>
<rect x="1301" y="432" width="1" height="22" fill="#000"/>
<rect x="1296" y="403" width="11" height="29" fill="#000"/>
<rect x="1297" y="404" width="9" height="27" fill="#ff0000"/>
<rect x="1317" y="404" width="1" height="1" fill="#000"/>
<rect x="1312" y="386" width="11" height="18" fill="#000"/>
<rect x="1313" y="387" width="9" height="16" fill="#ff0000"/>
</svg>
<g class="t">
<rect x="1614" y="381" width="36" height="11" fill="#000000"/>
<text x="1618" y="390" class="tw">69.433</text>
<rect x="5" y="314" width="1607" height="2" fill="#ff0000"/>
<rect x="1614" y="309" width="36" height="11" fill="#ff0000"/>
<text x="1618" y="318" class="tw">70.251</text>
<rect x="5" y="350" width="1607" height="2" fill="#ff0000"/>
<rect x="4" y="348" width="6" height="6" fill="#ff0000"/><rect x="6" y="350" width="2" height="2" fill="#fff"/>
<rect x="1606" y="348" width="6" height="6" fill="#ff0000"/><rect x="1608" y="350" width="2" height="2" fill="#fff"/>
<rect x="1614" y="345" width="36" height="11" fill="#ff0000"/>
<text x="1618" y="354" class="tw">69.834</text>
<rect x="5" y="407" width="1607" height="2" fill="#00bfff"/>
<rect x="4" y="405" width="6" height="6" fill="#00bfff"/><rect x="6" y="407" width="2" height="2" fill="#fff"/>
<rect x="1606" y="405" width="6" height="6" fill="#00bfff"/><rect x="1608" y="407" width="2" height="2" fill="#fff"/>
<rect x="1614" y="402" width="36" height="11" fill="#00bfff"/>
<text x="1618" y="411" class="tw">69.175</text>
<rect x="5" y="444" width="1607" height="2" fill="#0000ff"/>
<rect x="4" y="442" width="6" height="6" fill="#0000ff"/><rect x="6" y="444" width="2" height="2" fill="#fff"/>
<rect x="1606" y="442" width="6" height="6" fill="#0000ff"/><rect x="1608" y="444" width="2" height="2" fill="#fff"/>
<rect x="1614" y="439" width="36" height="11" fill="#0000ff"/>
<text x="1618" y="448" class="tw">68.747</text>
<rect x="5" y="477" width="1607" height="2" fill="#0000ff"/>
<rect x="4" y="475" width="6" height="6" fill="#0000ff"/><rect x="6" y="477" width="2" height="2" fill="#fff"/>
<rect x="1606" y="475" width="6" height="6" fill="#0000ff"/><rect x="1608" y="477" width="2" height="2" fill="#fff"/>
<rect x="1614" y="472" width="36" height="11" fill="#0000ff"/>
<text x="1618" y="481" class="tw">68.366</text>
</g>
<!-- header -->
<path d="M8 33H15.5L11.75 37.5Z" fill="#000" shape-rendering="auto"/>
<text class="t" x="20" y="38" style="letter-spacing:0.4px">USOil-,H4</text>
<text class="t" x="69" y="38" style="letter-spacing:0.18px">69.232 69.433 69.218 69.433</text>
<path d="M1349 26H1359L1354 32Z" fill="#000" shape-rendering="auto"/>
<!-- arrow -->
<g shape-rendering="auto">
<line x1="1316" y1="513" x2="1358" y2="453" stroke="#e81c24" stroke-width="3.4"/>
<path d="M1368.8 440.8L1351 450.3L1365.3 460.2Z" fill="#e81c24"/>
</g>
<g class="t">
<rect x="1613" y="32" width="2" height="1" fill="#000"/>
<text x="1618" y="35.6" style="letter-spacing:0.15px">73.530</text>
<rect x="1613" y="65" width="2" height="1" fill="#000"/>
<text x="1618" y="68.6" style="letter-spacing:0.15px">73.140</text>
<rect x="1613" y="98" width="2" height="1" fill="#000"/>
<text x="1618" y="101.6" style="letter-spacing:0.15px">72.760</text>
<rect x="1613" y="131" width="2" height="1" fill="#000"/>
<text x="1618" y="134.6" style="letter-spacing:0.15px">72.380</text>
<rect x="1613" y="164" width="2" height="1" fill="#000"/>
<text x="1618" y="167.6" style="letter-spacing:0.15px">72.000</text>
<rect x="1613" y="197" width="2" height="1" fill="#000"/>
<text x="1618" y="200.6" style="letter-spacing:0.15px">71.620</text>
<rect x="1613" y="230" width="2" height="1" fill="#000"/>
<text x="1618" y="233.6" style="letter-spacing:0.15px">71.230</text>
<rect x="1613" y="263" width="2" height="1" fill="#000"/>
<text x="1618" y="266.6" style="letter-spacing:0.15px">70.850</text>
<rect x="1613" y="296" width="2" height="1" fill="#000"/>
<text x="1618" y="299.6" style="letter-spacing:0.15px">70.470</text>
<rect x="1613" y="329" width="2" height="1" fill="#000"/>
<text x="1618" y="332.6" style="letter-spacing:0.15px">70.090</text>
<rect x="1613" y="362" width="2" height="1" fill="#000"/>
<text x="1618" y="365.6" style="letter-spacing:0.15px">69.710</text>
<rect x="1613" y="395" width="2" height="1" fill="#000"/>
<text x="1618" y="398.6" style="letter-spacing:0.15px">69.320</text>
<rect x="1613" y="428" width="2" height="1" fill="#000"/>
<text x="1618" y="431.6" style="letter-spacing:0.15px">68.940</text>
<rect x="1613" y="461" width="2" height="1" fill="#000"/>
<text x="1618" y="464.6" style="letter-spacing:0.15px">68.560</text>
<rect x="1613" y="494" width="2" height="1" fill="#000"/>
<text x="1618" y="497.6" style="letter-spacing:0.15px">68.180</text>
<rect x="1613" y="527" width="2" height="1" fill="#000"/>
<text x="1618" y="530.6" style="letter-spacing:0.15px">67.790</text>
<rect x="1613" y="560" width="2" height="1" fill="#000"/>
<text x="1618" y="563.6" style="letter-spacing:0.15px">67.410</text>
<rect x="1613" y="593" width="2" height="1" fill="#000"/>
<text x="1618" y="596.6" style="letter-spacing:0.15px">67.030</text>
<rect x="1613" y="626" width="2" height="1" fill="#000"/>
<text x="1618" y="629.6" style="letter-spacing:0.15px">66.650</text>
</g>
<g class="t">
<rect x="5" y="806" width="1" height="3" fill="#000"/>
<text x="4" y="818" style="letter-spacing:0.15px">6 Jun 2023</text>
<rect x="69" y="806" width="1" height="3" fill="#000"/>
<text x="68" y="818" style="letter-spacing:0.15px">7 Jun 00:00</text>
<rect x="133" y="806" width="1" height="3" fill="#000"/>
<text x="132" y="818" style="letter-spacing:0.15px">7 Jun 16:00</text>
<rect x="197" y="806" width="1" height="3" fill="#000"/>
<text x="196" y="818" style="letter-spacing:0.15px">8 Jun 08:00</text>
<rect x="261" y="806" width="1" height="3" fill="#000"/>
<text x="260" y="818" style="letter-spacing:0.15px">9 Jun 00:00</text>
<rect x="325" y="806" width="1" height="3" fill="#000"/>
<text x="324" y="818" style="letter-spacing:0.15px">9 Jun 16:00</text>
<rect x="389" y="806" width="1" height="3" fill="#000"/>
<text x="388" y="818" style="letter-spacing:0.15px">12 Jun 04:00</text>
<rect x="453" y="806" width="1" height="3" fill="#000"/>
<text x="452" y="818" style="letter-spacing:0.15px">12 Jun 20:00</text>
<rect x="517" y="806" width="1" height="3" fill="#000"/>
<text x="516" y="818" style="letter-spacing:0.15px">13 Jun 12:00</text>
<rect x="581" y="806" width="1" height="3" fill="#000"/>
<text x="580" y="818" style="letter-spacing:0.15px">14 Jun 04:00</text>
<rect x="645" y="806" width="1" height="3" fill="#000"/>
<text x="644" y="818" style="letter-spacing:0.15px">14 Jun 20:00</text>
<rect x="709" y="806" width="1" height="3" fill="#000"/>
<text x="708" y="818" style="letter-spacing:0.15px">15 Jun 12:00</text>
<rect x="773" y="806" width="1" height="3" fill="#000"/>
<text x="772" y="818" style="letter-spacing:0.15px">16 Jun 04:00</text>
<rect x="837" y="806" width="1" height="3" fill="#000"/>
<text x="836" y="818" style="letter-spacing:0.15px">18 Jun 23:00</text>
<rect x="901" y="806" width="1" height="3" fill="#000"/>
<text x="900" y="818" style="letter-spacing:0.15px">19 Jun 12:00</text>
<rect x="965" y="806" width="1" height="3" fill="#000"/>
<text x="964" y="818" style="letter-spacing:0.15px">20 Jun 04:00</text>
<rect x="1029" y="806" width="1" height="3" fill="#000"/>
<text x="1028" y="818" style="letter-spacing:0.15px">20 Jun 20:00</text>
<rect x="1093" y="806" width="1" height="3" fill="#000"/>
<text x="1092" y="818" style="letter-spacing:0.15px">21 Jun 12:00</text>
<rect x="1157" y="806" width="1" height="3" fill="#000"/>
<text x="1156" y="818" style="letter-spacing:0.15px">22 Jun 04:00</text>
<rect x="1221" y="806" width="1" height="3" fill="#000"/>
<text x="1220" y="818" style="letter-spacing:0.15px">22 Jun 20:00</text>
<rect x="1285" y="806" width="1" height="3" fill="#000"/>
<text x="1284" y="818" style="letter-spacing:0.15px">23 Jun 12:00</text>
</g>
<!-- MACD -->
<svg x="5" y="632" width="1607" height="87" viewBox="5 632 1607 87" overflow="hidden">
<rect x="4" y="652" width="3" height="11" fill="#00ff00"/>
<rect x="20" y="652" width="3" height="11" fill="#00ff00"/>
<rect x="36" y="654" width="3" height="9" fill="#00ff00"/>
<rect x="52" y="654" width="3" height="9" fill="#00ff00"/>
<rect x="68" y="655" width="3" height="8" fill="#00ff00"/>
<rect x="84" y="658" width="3" height="5" fill="#00ff00"/>
<rect x="100" y="655" width="3" height="8" fill="#00ff00"/>
<rect x="116" y="650" width="3" height="13" fill="#00ff00"/>
<rect x="132" y="648" width="3" height="15" fill="#00ff00"/>
<rect x="148" y="647" width="3" height="16" fill="#00ff00"/>
<rect x="164" y="647" width="3" height="16" fill="#00ff00"/>
<rect x="180" y="647" width="3" height="16" fill="#00ff00"/>
<rect x="196" y="644" width="3" height="19" fill="#00ff00"/>
<rect x="212" y="657" width="3" height="6" fill="#00ff00"/>
<rect x="228" y="661" width="3" height="2" fill="#00ff00"/>
<rect x="244" y="663" width="3" height="2" fill="#00ff00"/>
<rect x="260" y="663" width="3" height="5" fill="#00ff00"/>
<rect x="276" y="663" width="3" height="5" fill="#00ff00"/>
<rect x="292" y="663" width="3" height="5" fill="#00ff00"/>
<rect x="308" y="663" width="3" height="5" fill="#00ff00"/>
<rect x="324" y="663" width="3" height="9" fill="#00ff00"/>
<rect x="340" y="663" width="3" height="12" fill="#00ff00"/>
<rect x="356" y="663" width="3" height="15" fill="#00ff00"/>
<rect x="372" y="663" width="3" height="20" fill="#00ff00"/>
<rect x="388" y="663" width="3" height="26" fill="#00ff00"/>
<rect x="404" y="663" width="3" height="31" fill="#00ff00"/>
<rect x="420" y="663" width="3" height="37" fill="#00ff00"/>
<rect x="436" y="663" width="3" height="45" fill="#00ff00"/>
<rect x="452" y="663" width="3" height="49" fill="#00ff00"/>
<rect x="468" y="663" width="3" height="51" fill="#00ff00"/>
<rect x="484" y="663" width="3" height="53" fill="#00ff00"/>
<rect x="500" y="663" width="3" height="50" fill="#00ff00"/>
<rect x="516" y="663" width="3" height="44" fill="#00ff00"/>
<rect x="532" y="663" width="3" height="39" fill="#00ff00"/>
<rect x="548" y="663" width="3" height="34" fill="#00ff00"/>
<rect x="564" y="663" width="3" height="29" fill="#00ff00"/>
<rect x="580" y="663" width="3" height="23" fill="#00ff00"/>
<rect x="596" y="663" width="3" height="18" fill="#00ff00"/>
<rect x="612" y="663" width="3" height="19" fill="#00ff00"/>
<rect x="628" y="663" width="3" height="19" fill="#00ff00"/>
<rect x="644" y="663" width="3" height="20" fill="#00ff00"/>
<rect x="660" y="663" width="3" height="22" fill="#00ff00"/>
<rect x="676" y="663" width="3" height="21" fill="#00ff00"/>
<rect x="692" y="663" width="3" height="19" fill="#00ff00"/>
<rect x="708" y="663" width="3" height="12" fill="#00ff00"/>
<rect x="724" y="663" width="3" height="6" fill="#00ff00"/>
<rect x="740" y="662" width="3" height="1" fill="#00ff00"/>
<rect x="756" y="659" width="3" height="4" fill="#00ff00"/>
<rect x="772" y="656" width="3" height="7" fill="#00ff00"/>
<rect x="788" y="653" width="3" height="10" fill="#00ff00"/>
<rect x="804" y="649" width="3" height="14" fill="#00ff00"/>
<rect x="820" y="644" width="3" height="19" fill="#00ff00"/>
<rect x="836" y="641" width="3" height="22" fill="#00ff00"/>
<rect x="852" y="641" width="3" height="22" fill="#00ff00"/>
<rect x="868" y="639" width="3" height="24" fill="#00ff00"/>
<rect x="884" y="636" width="3" height="27" fill="#00ff00"/>
<rect x="900" y="637" width="3" height="26" fill="#00ff00"/>
<rect x="916" y="637" width="3" height="26" fill="#00ff00"/>
<rect x="932" y="638" width="3" height="25" fill="#00ff00"/>
<rect x="948" y="639" width="3" height="24" fill="#00ff00"/>
<rect x="964" y="639" width="3" height="24" fill="#00ff00"/>
<rect x="980" y="639" width="3" height="24" fill="#00ff00"/>
<rect x="996" y="644" width="3" height="19" fill="#00ff00"/>
<rect x="1012" y="645" width="3" height="18" fill="#00ff00"/>
<rect x="1028" y="647" width="3" height="16" fill="#00ff00"/>
<rect x="1044" y="647" width="3" height="16" fill="#00ff00"/>
<rect x="1060" y="647" width="3" height="16" fill="#00ff00"/>
<rect x="1076" y="648" width="3" height="15" fill="#00ff00"/>
<rect x="1092" y="645" width="3" height="18" fill="#00ff00"/>
<rect x="1108" y="641" width="3" height="22" fill="#00ff00"/>
<rect x="1124" y="639" width="3" height="24" fill="#00ff00"/>
<rect x="1140" y="639" width="3" height="24" fill="#00ff00"/>
<rect x="1156" y="639" width="3" height="24" fill="#00ff00"/>
<rect x="1172" y="643" width="3" height="20" fill="#00ff00"/>
<rect x="1188" y="653" width="3" height="10" fill="#00ff00"/>
<rect x="1204" y="662" width="3" height="1" fill="#00ff00"/>
<rect x="1220" y="663" width="3" height="6" fill="#00ff00"/>
<rect x="1236" y="663" width="3" height="14" fill="#00ff00"/>
<rect x="1252" y="663" width="3" height="22" fill="#00ff00"/>
<rect x="1268" y="663" width="3" height="26" fill="#00ff00"/>
<rect x="1284" y="663" width="3" height="28" fill="#00ff00"/>
<rect x="1300" y="663" width="3" height="28" fill="#00ff00"/>
<rect x="1316" y="663" width="3" height="27" fill="#00ff00"/>
<polyline points="4,641 5.5,641 21.5,641 37.5,642 53.5,645.5 69.5,648 85.5,651 101.5,653 117.5,653 133.5,653 149.5,652.5 165.5,652 181.5,651.5 197.5,651 213.5,650 229.5,651.5 245.5,652.5 261.5,654 277.5,656.5 293.5,659 309.5,661 325.5,664 341.5,667 357.5,669 373.5,672 389.5,675 405.5,677.5 421.5,681 437.5,685.5 453.5,690.5 469.5,695 485.5,699.5 501.5,702.5 517.5,705.5 533.5,706.5 549.5,707 565.5,706 581.5,703 597.5,700.7 613.5,696 629.5,693.3 645.5,689.7 661.5,687.4 677.5,685.5 693.5,683.3 709.5,681.5 725.5,679.3 741.5,677.5 757.5,675.5 773.5,672.3 789.5,669.4 805.5,665 821.5,661.5 837.5,656.6 853.5,653 869.5,649.7 885.5,646.2 901.5,644.5 917.5,642.6 933.5,640.5 949.5,639.4 965.5,639 981.5,639 997.5,639 1013.5,640 1029.5,641.6 1045.5,643 1061.5,643.6 1077.5,643.6 1093.5,644.5 1109.5,644.5 1125.5,644.5 1141.5,644 1157.5,643.2 1173.5,643.6 1189.5,644.5 1205.5,645.7 1221.5,648.8 1237.5,651.8 1253.5,656 1269.5,661.5 1285.5,667.4 1301.5,673.5 1317.5,678" fill="none" stroke="#ff0000" stroke-width="2" shape-rendering="crispEdges"/>
</svg>
<g class="t">
<text x="9" y="644" style="letter-spacing:0.25px">MACD(12,26,9) -0.5481 -0.3167</text>
<text x="1616" y="641.6" style="letter-spacing:0.2px">0.6382</text>
<text x="1616" y="666.6" style="letter-spacing:0.2px">0.00</text>
<text x="1616" y="715.6" style="letter-spacing:0.2px">-1.1829</text>
</g>
<g fill="#000"><rect x="1613" y="633" width="1" height="1"/><rect x="1613" y="663" width="1" height="1"/><rect x="1613" y="718" width="1" height="1"/><rect x="1613" y="722" width="1" height="1"/><rect x="1613" y="804" width="1" height="1"/></g>
<!-- RSI -->
<svg x="5" y="722" width="1607" height="83" viewBox="5 722 1607 83" overflow="hidden">
<g fill="none" stroke="#000" stroke-width="1" stroke-dasharray="3 3" shape-rendering="crispEdges">
<line x1="0" y1="739.5" x2="1612" y2="739.5"/>
<line x1="0" y1="763.5" x2="1612" y2="763.5"/>
<line x1="0" y1="792.5" x2="1612" y2="792.5"/>
</g>
<polyline points="4,768.5 5.5,768.5 21.5,763 37.5,763 53.5,763 69.5,764.5 85.5,765.6 101.5,757.6 117.5,756 133.5,758.2 149.5,760 165.5,760 181.5,760 197.5,756.8 213.5,773.6 229.5,767 245.5,767 261.5,767 277.5,765.3 293.5,763.6 309.5,764.5 325.5,768.9 341.5,769.3 357.5,769.8 373.5,773.3 389.5,775.6 405.5,776.5 421.5,778 437.5,780.9 453.5,778.2 469.5,777.8 485.5,777.8 501.5,772.5 517.5,766.9 533.5,765.9 549.5,765.9 565.5,764.5 581.5,762 597.5,762 613.5,768.9 629.5,768.9 645.5,770.6 661.5,771.6 677.5,768.2 693.5,766.6 709.5,757.9 725.5,756.3 741.5,756.3 757.5,757.6 773.5,757.9 789.5,756.3 805.5,754.7 821.5,749.9 837.5,753.3 853.5,756.5 869.5,754.3 885.5,753 901.5,757 917.5,757 933.5,757.3 949.5,757.9 965.5,756.3 981.5,755 997.5,765.9 1013.5,760.9 1029.5,761.9 1045.5,760 1061.5,760 1077.5,761.9 1093.5,753.4 1109.5,753 1125.5,753.9 1141.5,755.6 1157.5,755.6 1173.5,764 1189.5,773.8 1205.5,773.8 1221.5,774.2 1237.5,777.3 1253.5,778.6 1269.5,774.9 1285.5,773.6 1301.5,771.6 1317.5,769.8" fill="none" stroke="#1e90ff" stroke-width="2" shape-rendering="crispEdges"/>
</svg>
<g class="t">
<text x="9" y="734" style="letter-spacing:0.35px">RSI(14) 43.2923</text>
<text x="1616" y="731.6" style="letter-spacing:0.1px">100</text>
<text x="1615" y="742.6" style="letter-spacing:0.1px">80</text>
<text x="1615" y="766.6" style="letter-spacing:0.1px">50</text>
<text x="1615" y="795.6" style="letter-spacing:0.1px">15</text>
<text x="1615" y="801.6">0</text>
</g>
</svg>
</body></html>
